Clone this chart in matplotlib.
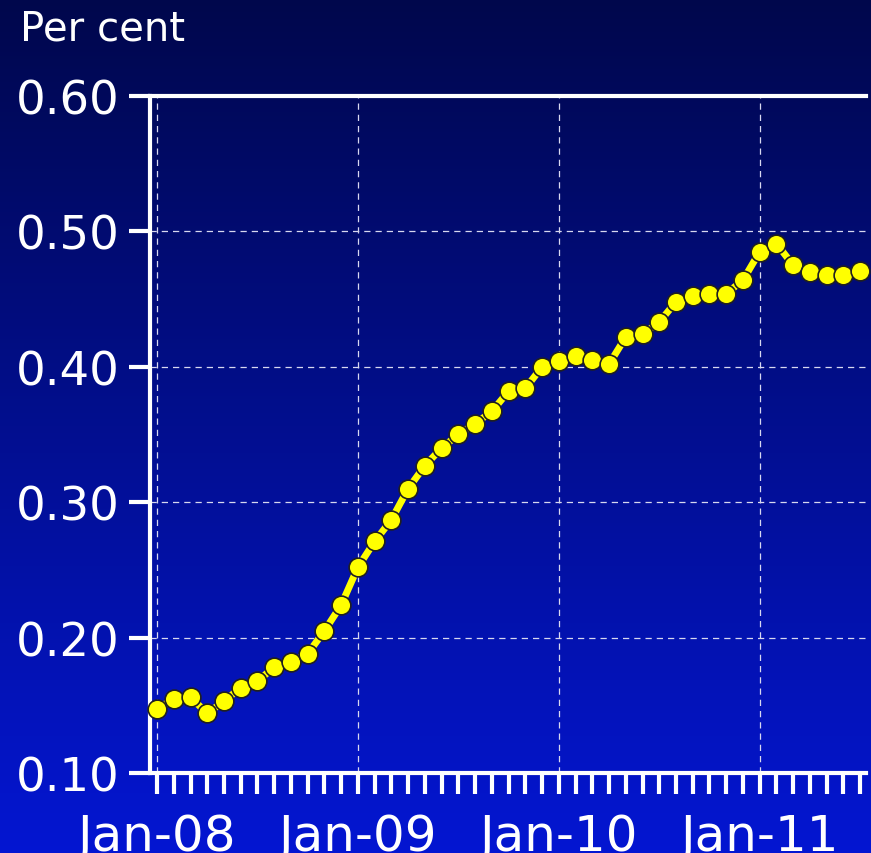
import numpy as np
import matplotlib
matplotlib.use('Agg')
import matplotlib.pyplot as plt
from matplotlib.colors import LinearSegmentedColormap

# valores mensais, jan-08 a jul-11
valores = [0.147, 0.155, 0.156, 0.144, 0.153, 0.163, 0.168, 0.178, 0.182, 0.188,
           0.205, 0.224, 0.252, 0.271, 0.287, 0.310, 0.327, 0.340, 0.350, 0.358,
           0.367, 0.382, 0.384, 0.400, 0.404, 0.408, 0.405, 0.402, 0.422, 0.424,
           0.433, 0.448, 0.452, 0.454, 0.454, 0.464, 0.485, 0.491, 0.475, 0.470,
           0.468, 0.468, 0.471]
rotulos_x = ['Jan-08', 'Jan-09', 'Jan-10', 'Jan-11']
ticks_y = [0.10, 0.20, 0.30, 0.40, 0.50, 0.60]

meses = np.arange(len(valores))

fig = plt.figure(figsize=(8.71, 8.54), dpi=100)

# fundo em degradê (azul escuro em cima, azul vivo embaixo)
fundo = fig.add_axes([0, 0, 1, 1], zorder=-10)
cmap = LinearSegmentedColormap.from_list('fundo', ['#00074c', '#0416d2'])
fundo.imshow(np.linspace(0, 1, 256).reshape(-1, 1), aspect='auto', cmap=cmap,
             extent=[0, 1, 0, 1])
fundo.axis('off')

ax = fig.add_axes([0.1722, 0.0937, 0.8221, 0.7927])
ax.set_facecolor('none')

ax.plot(meses, valores, color='#ffff00', lw=5, marker='o', markersize=13.5,
        markerfacecolor='#ffff00', markeredgecolor='#202020', markeredgewidth=1.2,
        zorder=5, clip_on=False)

ax.set_xlim(-0.42, 42.35)
ax.set_ylim(0.10, 0.60)

ax.set_xticks([0, 12, 24, 36])
ax.set_xticklabels(rotulos_x)
ax.set_xticks(meses, minor=True)
ax.set_yticks(ticks_y)
ax.set_yticklabels(['%.2f' % v for v in ticks_y])

ax.tick_params(axis='x', which='both', direction='out', length=15, width=3,
               color='white', labelcolor='white', labelsize=36, pad=13)
ax.tick_params(axis='y', direction='out', length=15, width=3,
               color='white', labelcolor='white', labelsize=33.5, pad=7)

for lado in ['left', 'top', 'bottom']:
    ax.spines[lado].set_color('white')
    ax.spines[lado].set_linewidth(3)
ax.spines['right'].set_visible(False)

ax.grid(True, which='major', color='#d8d8f0', linestyle=(0, (5, 4)), linewidth=0.9)

fig.text(0.023, 0.965, 'Per cent', color='white', fontsize=29, va='center', ha='left')

plt.savefig('out.png', dpi=100)
